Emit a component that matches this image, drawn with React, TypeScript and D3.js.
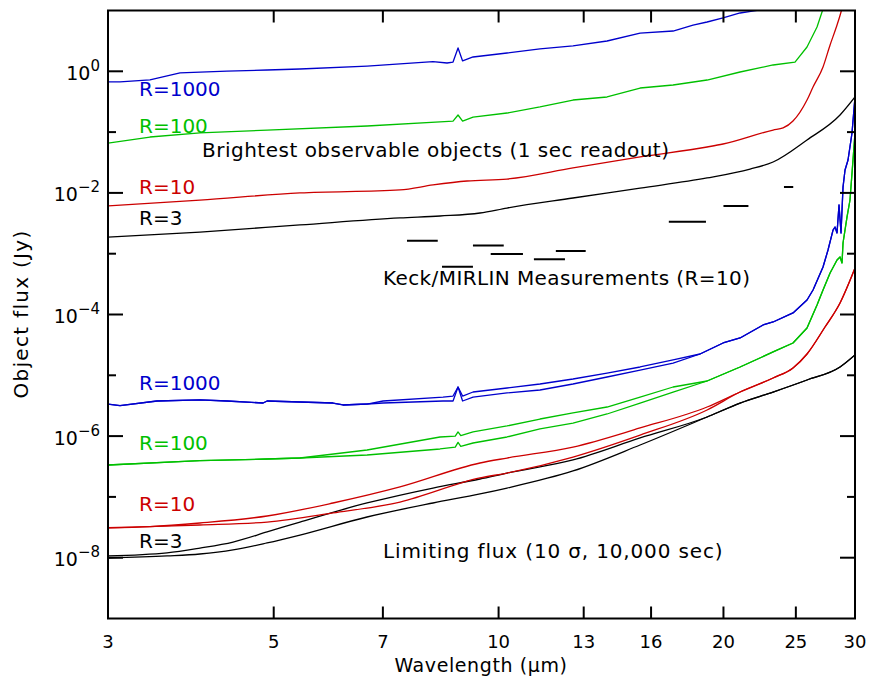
import React from 'react';
import * as d3 from 'd3';

type Pt = [number, number];

// ---------- axes ----------
const xTickValues = [3, 5, 7, 10, 13, 16, 20, 25, 30];
const yMajorExponents = [0, -2, -4, -6, -8];
const yMinorExponents = [-1, -3, -5, -7];

// ---------- brightest observable objects (1 sec readout) ----------
const brightBlueWave = [3.0, 3.113, 3.414, 3.746, 4.329, 4.899, 5.421, 6.667, 8.17, 8.531, 8.69, 8.825, 8.95, 9.243, 10.263, 11.361, 12.578, 13.97, 15.468, 17.124, 18.21, 19.016, 19.976, 21.051, 22.39, 23.816];
const brightBlueFlux = [0.67, 0.67, 0.72, 0.94, 1.01, 1.05, 1.09, 1.22, 1.44, 1.37, 1.42, 2.42, 1.48, 1.72, 2.0, 2.33, 2.61, 3.15, 4.26, 4.6, 5.77, 6.47, 7.53, 9.1, 10.2, 12.8];

const brightGreenWave = [3.0, 3.414, 3.983, 4.899, 6.667, 8.348, 8.69, 8.825, 8.95, 9.243, 10.263, 11.361, 12.578, 13.97, 15.468, 17.124, 19.016, 21.051, 23.307, 24.935, 25.875, 26.686, 27.1, 27.35];
const brightGreenFlux = [0.066, 0.083, 0.097, 0.108, 0.126, 0.147, 0.152, 0.191, 0.152, 0.177, 0.206, 0.259, 0.337, 0.378, 0.531, 0.595, 0.719, 0.974, 1.27, 1.42, 2.51, 5.35, 9.45, 14.9];

const brightRedWave = [3.0, 3.983, 5.421, 7.379, 8.17, 9.074, 10.263, 12.578, 15.468, 19.016, 19.976, 23.307, 24.037, 24.781, 25.875, 26.359, 27.184, 27.782, 28.295, 28.735, 28.913];
const brightRedFlux = [0.0061, 0.0076, 0.01, 0.0112, 0.0135, 0.0157, 0.0169, 0.0257, 0.039, 0.0569, 0.0637, 0.108, 0.117, 0.152, 0.337, 0.552, 1.18, 2.71, 5.16, 9.45, 12.8];

const brightBlackWave = [3.0, 3.983, 5.421, 7.379, 8.348, 9.443, 10.263, 12.578, 15.468, 19.016, 21.71, 23.307, 25.875, 28.647, 30.0];
const brightBlackFlux = [0.00188, 0.00227, 0.00297, 0.00387, 0.00417, 0.00467, 0.00564, 0.00824, 0.012, 0.0176, 0.0247, 0.0322, 0.0742, 0.191, 0.378];

// ---------- limiting flux (10 sigma, 10,000 sec): two lines per resolution ----------
const limBlueHeadWave = [3.0, 3.113, 3.489, 3.983, 4.329, 4.839, 4.899, 6.002, 6.19, 6.667];
const limBlueHeadFlux = [3.37e-6, 3.16e-6, 3.78e-6, 3.93e-6, 3.78e-6, 3.5e-6, 3.78e-6, 3.5e-6, 3.25e-6, 3.37e-6];
const limBlueMidWave = [7.004, 8.425, 8.69, 8.825, 8.95, 9.243, 10.263, 11.361, 12.578, 13.97, 15.468, 17.124, 18.607];
const limBlueMidFluxA = [3.78e-6, 4.39e-6, 4.56e-6, 6.42e-6, 4.56e-6, 5.31e-6, 6.18e-6, 7.19e-6, 8.69e-6, 1.09e-5, 1.37e-5, 1.79e-5, 2.24e-5];
const limBlueMidFluxB = [3.5e-6, 3.78e-6, 3.78e-6, 6.42e-6, 3.78e-6, 4.39e-6, 5.12e-6, 5.73e-6, 7.19e-6, 9.38e-6, 1.22e-5, 1.59e-5, 2.24e-5];
const limBlueTailWave = [19.976, 21.051, 22.599, 23.307, 24.781, 25.875, 26.359, 27.184, 27.606, 28.035, 28.209, 28.383, 28.558, 28.735, 28.913, 29.092, 29.362, 29.724, 30.0, 30.0];
const limBlueTailFlux = [3.4e-5, 4.11e-5, 6.72e-5, 7.53e-5, 1.06e-4, 1.73e-4, 2.53e-4, 6.04e-4, 1.15e-3, 2.45e-3, 2.75e-3, 2.19e-3, 6.32e-3, 2.19e-3, 1.25e-2, 2.38e-2, 3.48e-2, 9.67e-2, 0.378, 12];

const limGreenHeadWave = [3.0, 3.983, 4.899, 5.421];
const limGreenHeadFlux = [3.35e-7, 3.94e-7, 4.2e-7, 4.36e-7];
const limGreenMidWave = [6.667, 8.348, 8.75, 8.825, 8.9, 9.243, 10.263, 11.361, 12.578, 13.97, 15.468, 17.124];
const limGreenMidFluxA = [5.91e-7, 9.67e-7, 1.0e-6, 1.17e-6, 1.02e-6, 1.17e-6, 1.47e-6, 1.91e-6, 2.4e-6, 3.01e-6, 4.39e-6, 6.42e-6];
const limGreenMidFluxB = [4.89e-7, 6.14e-7, 6.6e-7, 7.9e-7, 6.8e-7, 7.7e-7, 9.67e-7, 1.31e-6, 1.64e-6, 2.31e-6, 3.5e-6, 5.31e-6];
const limGreenTailWave = [19.016, 21.051, 23.307, 24.781, 25.875, 26.686, 27.184, 27.782, 28.383, 28.647, 28.824, 28.913, 29.272, 29.541, 29.816, 30.0];
const limGreenTailFlux = [8.06e-6, 1.37e-5, 2.42e-5, 3.4e-5, 6.0e-5, 1.43e-4, 2.53e-4, 4.82e-4, 7.88e-4, 8.82e-4, 7.03e-4, 1.5e-3, 4.02e-3, 7.64e-3, 3.48e-2, 9.67e-2];

const limRedHeadWave = [3.0, 3.414];
const limRedHeadFlux = [3.11e-8, 3.25e-8];
const limRedMidWave = [3.983, 4.899, 6.002, 7.379, 9.443, 10.263, 12.578, 15.468, 19.016];
const limRedMidFluxA = [3.72e-8, 4.85e-8, 7.94e-8, 1.46e-7, 3.61e-7, 4.36e-7, 6.61e-7, 1.36e-6, 3.01e-6];
const limRedMidFluxB = [3.45e-8, 3.86e-8, 5.44e-8, 8.24e-8, 2.05e-7, 2.47e-7, 4.53e-7, 1.04e-6, 2.69e-6];
const limRedTailWave = [21.051, 23.307, 24.781, 25.875, 27.35, 28.647, 30.0];
const limRedTailFlux = [5.31e-6, 9.03e-6, 1.32e-5, 2.24e-5, 6.23e-5, 1.55e-4, 5.82e-4];

const limBlackMidWave = [3.0, 3.599, 3.983, 4.411, 4.899, 5.421, 6.667, 8.17, 9.443, 10.263, 12.578, 15.468, 19.016];
const limBlackMidFluxA = [1.07e-8, 1.2e-8, 1.44e-8, 1.81e-8, 2.65e-8, 3.86e-8, 7.94e-8, 1.4e-7, 1.97e-7, 2.47e-7, 4.05e-7, 9.31e-7, 2.06e-6];
const limBlackMidFluxB = [9.89e-9, 1.07e-8, 1.15e-8, 1.34e-8, 1.75e-8, 2.36e-8, 4.67e-8, 7.94e-8, 1.12e-7, 1.4e-7, 2.67e-7, 7.14e-7, 2.06e-6];
const limBlackTailWave = [21.051, 23.307, 25.875, 28.647, 30.0];
const limBlackTailFlux = [3.5e-6, 5.31e-6, 8.37e-6, 1.37e-5, 2.16e-5];

// ---------- Keck/MIRLIN measurements (R=10) ----------
const measWaveLo = [7.54, 8.4, 9.24, 9.76, 11.15, 11.93, 16.9, 20.0, 24.1];
const measWaveHi = [8.29, 9.24, 10.16, 10.78, 12.27, 13.08, 18.95, 21.6, 24.8];
const measFlux = [1.64e-3, 6.1e-4, 1.37e-3, 9.9e-4, 8.1e-4, 1.11e-3, 3.36e-3, 6.1e-3, 1.25e-2];

// ---------- labels ----------
const brightLabels = ['R=1000', 'R=100', 'R=10', 'R=3'];
const limLabels = ['R=1000', 'R=100', 'R=10', 'R=3'];

const zip = (a: number[], b: number[]): Pt[] => a.map((v, i) => [v, b[i]] as Pt);

const BLUE = '#0000cc';
const GREEN = '#00c000';
const RED = '#cc0000';
const BLACK = '#000000';
const FONT = 'DejaVu Sans, sans-serif';

export default function App() {
  const L = 108, R = 855, T = 10.5, B = 618.5;
  const x = d3.scaleLog().domain([3, 30]).range([L, R]);
  const y = d3.scaleLog().domain([1e-9, 1e1]).range([B, T]);

  const line = d3.line<Pt>().x(d => x(d[0])).y(d => y(d[1])).curve(d3.curveLinear);
  const smooth = d3.line<Pt>().x(d => x(d[0])).y(d => y(d[1])).curve(d3.curveMonotoneX);

  const brightBlue = zip(brightBlueWave, brightBlueFlux);
  const brightGreen = zip(brightGreenWave, brightGreenFlux);
  const brightRed = zip(brightRedWave, brightRedFlux);
  const brightBlack = zip(brightBlackWave, brightBlackFlux);

  const limBlueA = [...zip(limBlueHeadWave, limBlueHeadFlux), ...zip(limBlueMidWave, limBlueMidFluxA), ...zip(limBlueTailWave, limBlueTailFlux)];
  const limBlueB = [...zip(limBlueHeadWave, limBlueHeadFlux), ...zip(limBlueMidWave, limBlueMidFluxB), ...zip(limBlueTailWave, limBlueTailFlux)];
  const limGreenA = [...zip(limGreenHeadWave, limGreenHeadFlux), ...zip(limGreenMidWave, limGreenMidFluxA), ...zip(limGreenTailWave, limGreenTailFlux)];
  const limGreenB = [...zip(limGreenHeadWave, limGreenHeadFlux), ...zip(limGreenMidWave, limGreenMidFluxB), ...zip(limGreenTailWave, limGreenTailFlux)];
  const limRedA = [...zip(limRedHeadWave, limRedHeadFlux), ...zip(limRedMidWave, limRedMidFluxA), ...zip(limRedTailWave, limRedTailFlux)];
  const limRedB = [...zip(limRedHeadWave, limRedHeadFlux), ...zip(limRedMidWave, limRedMidFluxB), ...zip(limRedTailWave, limRedTailFlux)];
  const limBlackA = [...zip(limBlackMidWave, limBlackMidFluxA), ...zip(limBlackTailWave, limBlackTailFlux)];
  const limBlackB = [...zip(limBlackMidWave, limBlackMidFluxB), ...zip(limBlackTailWave, limBlackTailFlux)];

  const curveW = 1.3;
  const tickFs = 18;

  return (
    <svg width={870} height={681} style={{ position: 'absolute', left: 0, top: 0, background: '#fff' }} fontFamily={FONT}>
      <defs>
        <clipPath id="plot">
          <rect x={L} y={T} width={R - L} height={B - T} />
        </clipPath>
      </defs>
      <rect x={0} y={0} width={870} height={681} fill="#fff" />

      <g clipPath="url(#plot)" fill="none" strokeLinejoin="round">
        {/* limiting flux */}
        <path d={smooth(limBlackA) || ''} stroke={BLACK} strokeWidth={curveW} />
        <path d={smooth(limBlackB) || ''} stroke={BLACK} strokeWidth={curveW} />
        <path d={smooth(limRedA) || ''} stroke={RED} strokeWidth={curveW} />
        <path d={smooth(limRedB) || ''} stroke={RED} strokeWidth={curveW} />
        <path d={line(limGreenA) || ''} stroke={GREEN} strokeWidth={curveW} />
        <path d={line(limGreenB) || ''} stroke={GREEN} strokeWidth={curveW} />
        <path d={line(limBlueA) || ''} stroke={BLUE} strokeWidth={curveW} />
        <path d={line(limBlueB) || ''} stroke={BLUE} strokeWidth={curveW} />
        {/* brightest */}
        <path d={smooth(brightBlack) || ''} stroke={BLACK} strokeWidth={curveW} />
        <path d={smooth(brightRed) || ''} stroke={RED} strokeWidth={curveW} />
        <path d={line(brightGreen) || ''} stroke={GREEN} strokeWidth={curveW} />
        <path d={line(brightBlue) || ''} stroke={BLUE} strokeWidth={curveW} />
        {/* measurements */}
        {measFlux.map((f, i) => (
          <line key={i} x1={x(measWaveLo[i])} x2={x(measWaveHi[i])} y1={y(f)} y2={y(f)} stroke={BLACK} strokeWidth={2} />
        ))}
      </g>

      {/* frame */}
      <rect x={L} y={T} width={R - L} height={B - T} fill="none" stroke={BLACK} strokeWidth={2} />

      {/* x ticks */}
      {xTickValues.map(v => (
        <g key={v}>
          <line x1={x(v)} x2={x(v)} y1={B} y2={B - 12} stroke={BLACK} strokeWidth={2} />
          <line x1={x(v)} x2={x(v)} y1={T} y2={T + 12} stroke={BLACK} strokeWidth={2} />
          <text x={x(v)} y={648} textAnchor="middle" fontSize={tickFs}>{v}</text>
        </g>
      ))}

      {/* y ticks */}
      {yMajorExponents.map(e => {
        const yy = y(Math.pow(10, e));
        return (
          <g key={e}>
            <line x1={L} x2={L + 15} y1={yy} y2={yy} stroke={BLACK} strokeWidth={2} />
            <line x1={R} x2={R - 15} y1={yy} y2={yy} stroke={BLACK} strokeWidth={2} />
            <text x={100} y={yy + 8.5} textAnchor="end" fontSize={tickFs + 1}>
              <tspan>10</tspan>
              <tspan dy={-9} fontSize={15}>{e === 0 ? '0' : '\u2212' + Math.abs(e)}</tspan>
            </text>
          </g>
        );
      })}
      {yMinorExponents.map(e => {
        const yy = y(Math.pow(10, e));
        return (
          <g key={e}>
            <line x1={L} x2={L + 8} y1={yy} y2={yy} stroke={BLACK} strokeWidth={2} />
            <line x1={R} x2={R - 8} y1={yy} y2={yy} stroke={BLACK} strokeWidth={2} />
          </g>
        );
      })}

      {/* axis titles */}
      <text x={481} y={672} textAnchor="middle" fontSize={19} letterSpacing={0.6}>Wavelength (μm)</text>
      <text transform="translate(28,314) rotate(-90)" textAnchor="middle" fontSize={20} letterSpacing={1.3}>Object flux (Jy)</text>

      {/* curve labels */}
      <text x={139} y={96} fontSize={20} fill={BLUE}>{brightLabels[0]}</text>
      <text x={139} y={133} fontSize={20} fill={GREEN}>{brightLabels[1]}</text>
      <text x={139} y={194} fontSize={20} fill={RED}>{brightLabels[2]}</text>
      <text x={139} y={225} fontSize={20} fill={BLACK}>{brightLabels[3]}</text>
      <text x={202} y={157} fontSize={20} letterSpacing={0.5}>Brightest observable objects (1 sec readout)</text>
      <text x={383} y={285} fontSize={20} letterSpacing={0.4}>Keck/MIRLIN Measurements (R=10)</text>

      <text x={139} y={390} fontSize={20} fill={BLUE}>{limLabels[0]}</text>
      <text x={139} y={450} fontSize={20} fill={GREEN}>{limLabels[1]}</text>
      <text x={139} y={511} fontSize={20} fill={RED}>{limLabels[2]}</text>
      <text x={139} y={548} fontSize={20} fill={BLACK}>{limLabels[3]}</text>
      <text x={383} y={558} fontSize={20} letterSpacing={0.85}>Limiting flux (10 σ, 10,000 sec)</text>
    </svg>
  );
}
